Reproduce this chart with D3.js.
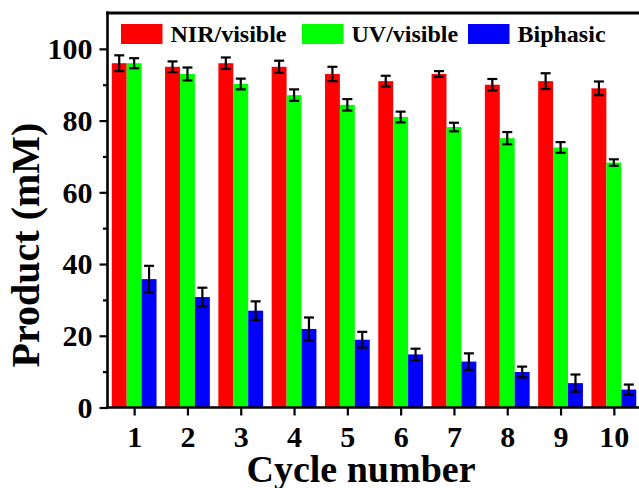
<!DOCTYPE html>
<html>
<head>
<meta charset="utf-8">
<script src="https://cdn.jsdelivr.net/npm/d3@7"></script>
<style>
  html, body { margin: 0; padding: 0; background: #fff; }
  svg { display: block; }
  text { font-family: "Liberation Serif", "Times New Roman", serif; font-weight: bold; fill: #000; }
</style>
</head>
<body>
<svg id="chart" width="639" height="488"></svg>
<script>
const cycles = [1, 2, 3, 4, 5, 6, 7, 8, 9, 10];
const seriesNames = ["NIR/visible", "UV/visible", "Biphasic"];
const nirValues = [96, 95, 96, 95, 93, 91, 93, 90, 91, 89];
const nirErrors = [2.2, 1.5, 1.6, 1.7, 2.0, 1.5, 0.8, 1.6, 2.2, 1.9];
const uvValues = [96, 93, 90.2, 87.1, 84.4, 81, 78.2, 75.1, 72.5, 68.3];
const uvErrors = [1.4, 1.8, 1.5, 1.6, 1.6, 1.5, 1.2, 1.7, 1.5, 0.9];
const biValues = [35.8, 30.8, 27, 21.9, 18.9, 14.8, 12.8, 9.9, 6.8, 5];
const biErrors = [3.7, 2.6, 2.6, 3.2, 2.2, 1.6, 2.3, 1.5, 2.4, 1.4];
const yMajorTicks = [0, 20, 40, 60, 80, 100];
const yMinorTicks = [10, 30, 50, 70, 90];
const xTickLabels = ["1", "2", "3", "4", "5", "6", "7", "8", "9", "10"];
const colors = ["#ff0000", "#00ff00", "#0000ff"];

const series = [
  { name: seriesNames[0], values: nirValues, errors: nirErrors },
  { name: seriesNames[1], values: uvValues, errors: uvErrors },
  { name: seriesNames[2], values: biValues, errors: biErrors }
];

(function () {
const svg = d3.select("#chart");
const pl = 107.5, pr = 640.5, pt = 13, pb = 407.5;

const x = d3.scaleLinear().domain([0.5, 10.5]).range([pl, pr]);
const y = d3.scaleLinear().domain([0, 110]).range([pb, pt]);
const barW = x(0.28) - x(0);

// bars
series.forEach((s, si) => {
  const off = (si - 1) * barW;
  const g = svg.append("g");
  g.selectAll("rect").data(cycles).enter().append("rect")
    .attr("x", (d, i) => x(d) + off - barW / 2)
    .attr("y", (d, i) => y(s.values[i]))
    .attr("width", barW)
    .attr("height", (d, i) => y(0) - y(s.values[i]))
    .attr("fill", colors[si]);
  const eg = svg.append("g").attr("stroke", "#000").attr("stroke-width", 2.2).attr("fill", "none");
  cycles.forEach((d, i) => {
    const cx = x(d) + off;
    const hi = y(s.values[i] + s.errors[i]);
    const lo = y(s.values[i] - s.errors[i]);
    eg.append("line").attr("x1", cx).attr("x2", cx).attr("y1", hi).attr("y2", lo);
    eg.append("line").attr("x1", cx - 5).attr("x2", cx + 5).attr("y1", hi).attr("y2", hi);
    eg.append("line").attr("x1", cx - 5).attr("x2", cx + 5).attr("y1", lo).attr("y2", lo);
  });
});

// y axis
const yAxis = svg.append("g").attr("transform", `translate(${pl},0)`)
  .call(d3.axisLeft(y).tickValues(yMajorTicks).tickSize(8).tickSizeOuter(0).tickFormat(d3.format("d")));
yAxis.select(".domain").remove();
yAxis.selectAll(".tick line").attr("stroke", "#000").attr("stroke-width", 2.2);
yAxis.selectAll(".tick text").attr("x", -15).attr("dy", "0.33em")
  .style("font-size", "30px").style("font-family", "'Liberation Serif', 'Times New Roman', serif").style("font-weight", "bold");
const yMinor = svg.append("g").attr("transform", `translate(${pl},0)`)
  .call(d3.axisLeft(y).tickValues(yMinorTicks).tickSize(4.5).tickSizeOuter(0).tickFormat(""));
yMinor.select(".domain").remove();
yMinor.selectAll(".tick line").attr("stroke", "#000").attr("stroke-width", 2.2);

// x axis
const xAxis = svg.append("g").attr("transform", `translate(0,${pb})`)
  .call(d3.axisBottom(x).tickValues(cycles).tickSize(8).tickSizeOuter(0).tickFormat((d, i) => xTickLabels[i]));
xAxis.select(".domain").remove();
xAxis.selectAll(".tick line").attr("stroke", "#000").attr("stroke-width", 2.2);
xAxis.selectAll(".tick text").attr("y", 39.5).attr("dy", "0")
  .style("font-size", "30px").style("font-family", "'Liberation Serif', 'Times New Roman', serif").style("font-weight", "bold");

// frame
const frame = svg.append("g").attr("stroke", "#000").attr("fill", "none");
frame.append("line").attr("x1", pl).attr("x2", pl).attr("y1", pt - 1.5).attr("y2", pb + 1.2).attr("stroke-width", 2.6);
frame.append("line").attr("x1", pl - 1.3).attr("x2", 639).attr("y1", pb).attr("y2", pb).attr("stroke-width", 2.6);
frame.append("line").attr("x1", pl - 1.3).attr("x2", 639).attr("y1", pt).attr("y2", pt).attr("stroke-width", 3);

// legend
const legendX = [121, 302, 468];
const lg = svg.append("g");
series.forEach((s, si) => {
  lg.append("rect").attr("x", legendX[si]).attr("y", 24).attr("width", 41.5).attr("height", 20).attr("fill", colors[si]);
  lg.append("text").attr("x", legendX[si] + 49.5).attr("y", 41.5).style("font-size", "24px").text(s.name);
});

// axis titles
svg.append("text").attr("x", 361).attr("y", 482).attr("text-anchor", "middle").style("font-size", "38px").text("Cycle number");
svg.append("text").attr("transform", "translate(39,245) rotate(-90)").attr("text-anchor", "middle").style("font-size", "40px").text("Product (mM)");
})();
</script>
</body>
</html>
